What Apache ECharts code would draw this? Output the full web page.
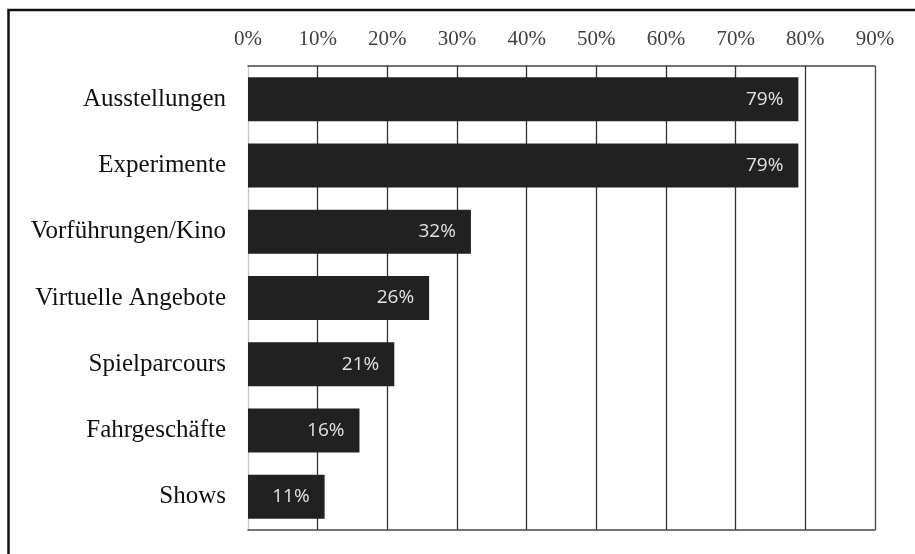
<!DOCTYPE html>
<html><head><meta charset="utf-8">
<script src="https://cdn.jsdelivr.net/npm/echarts@6/dist/echarts.min.js"></script>
<style>html,body{margin:0;padding:0;background:#fff}#c{width:915px;height:554px}</style>
</head><body><div id="c"></div>
<script>
const categories = ["Ausstellungen","Experimente","Vorführungen/Kino","Virtuelle Angebote","Spielparcours","Fahrgeschäfte","Shows"];
const values = [79,79,32,26,21,16,11];
const tickLabels = ["0%","10%","20%","30%","40%","50%","60%","70%","80%","90%"];

const chart = echarts.init(document.getElementById('c'), null, {renderer:'canvas'});
const splitColors = ['#c8c8c8','#333','#333','#333','#333','#333','#333','#333','#333','#444'];
chart.setOption({
  animation:false,
  grid:{left:248,right:40,top:66,bottom:24,containLabel:false},
  graphic:[{type:'rect',shape:{x:8.5,y:10,width:1200,height:1200},style:{fill:'none',stroke:'#111',lineWidth:2.5},z:100}],
  xAxis:[{
    type:'value',position:'top',min:0,max:90,interval:10,
    axisLine:{show:true,lineStyle:{color:'#444',width:1.5}},
    axisTick:{show:false},
    splitLine:{show:true,lineStyle:{color:splitColors,width:1.3}},
    axisLabel:{margin:16,fontFamily:'Liberation Serif',fontSize:21,color:'#404040',
      formatter:(v)=>tickLabels[Math.round(v/10)]}
  },{
    type:'value',position:'bottom',min:0,max:90,interval:10,
    axisLine:{show:true,lineStyle:{color:'#444',width:1.5}},
    axisTick:{show:false},axisLabel:{show:false},splitLine:{show:false}
  }],
  yAxis:{
    type:'category',data:categories,inverse:true,
    axisLine:{show:true,lineStyle:{color:'#c8c8c8',width:1}},
    axisTick:{show:false},
    axisLabel:{margin:22,fontFamily:'Liberation Serif',fontSize:25,color:'#111'}
  },
  series:[{
    type:'bar',data:values,barWidth:44,xAxisIndex:0,
    itemStyle:{color:'#212121'},
    label:{show:true,position:'insideRight',distance:15,formatter:'{c}%',
      fontFamily:'Open Sans',fontSize:19,color:'#e2e2e2'},
    z:3
  }]
});
</script></body></html>
